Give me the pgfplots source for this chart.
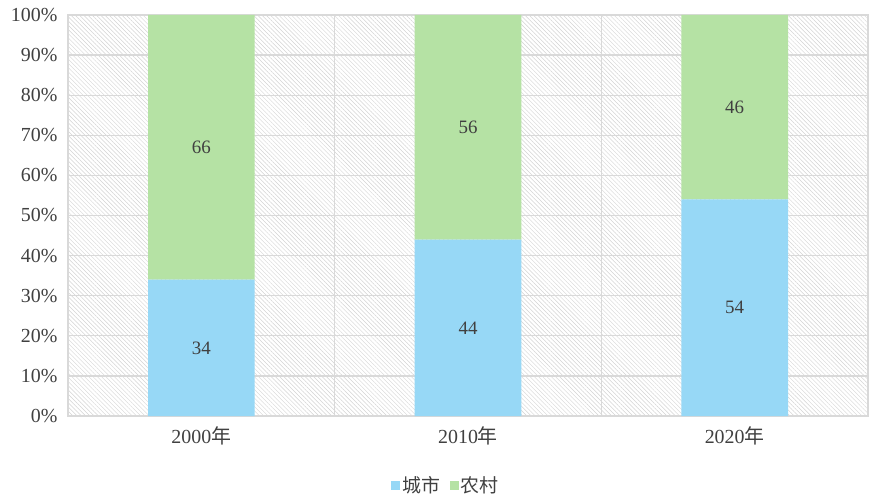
\documentclass[border=0pt]{standalone}
\usepackage{pgfplots}
\pgfplotsset{compat=1.18}
\usetikzlibrary{patterns.meta}
\usepackage{fontspec}
\setmainfont{Liberation Serif}
\newfontfamily\cjk{Noto Sans CJK SC}
\definecolor{cityblue}{RGB}{151,216,246}
\definecolor{ruralgreen}{RGB}{181,226,164}
\definecolor{gridgray}{RGB}{217,217,217}
\definecolor{hatchgray}{RGB}{212,212,212}
\definecolor{txt}{RGB}{64,64,64}
\begin{document}
\begin{tikzpicture}
\begin{axis}[
  at={(0,0)}, anchor=south west,
  scale only axis, width=800bp, height=401bp,
  xmin=-0.5, xmax=2.5, ymin=0, ymax=100,
  ybar stacked, bar width=0.4,
  axis background/.style={preaction={fill=white}, pattern={Lines[angle=-45,distance=3bp,line width=0.45bp]}, pattern color=hatchgray},
  xtick={0,1,2},
  xticklabels={2000{\cjk 年},2010{\cjk 年},2020{\cjk 年}},
  minor xtick={0.5,1.5},
  ytick={0,10,...,100},
  yticklabels={0\%,10\%,20\%,30\%,40\%,50\%,60\%,70\%,80\%,90\%,100\%},
  ymajorgrids, xminorgrids,
  major grid style={draw=gridgray, line width=1.3bp},
  minor grid style={draw=gridgray, line width=1.3bp},
  axis line style={draw=gridgray, line width=1.3bp},
  major tick length=0pt, minor tick length=0pt,
  tick style={draw=none},
  every tick label/.append style={font=\fontsize{20}{23}\selectfont, text=txt},
  yticklabel style={xshift=-7bp},
  xticklabel style={yshift=-7bp},
  legend style={at={(rel axis cs:0.5,0)}, anchor=center, xshift=-22bp, yshift=-69bp, draw=none, fill=none,
    font=\fontsize{19}{22}\selectfont\cjk, text=txt,
    /tikz/every even column/.append style={column sep=8bp}},
  legend columns=2,
  legend cell align=left,
]
\addplot[fill=cityblue, draw=none, legend image code/.code={\fill[cityblue] (0bp,-4.5bp) rectangle (9bp,4.5bp);}]
  coordinates {(0,34) (1,44) (2,54)};
\addlegendentry{城市}
\addplot[fill=ruralgreen, draw=none, legend image code/.code={\fill[ruralgreen] (0bp,-4.5bp) rectangle (9bp,4.5bp);}]
  coordinates {(0,66) (1,56) (2,46)};
\addlegendentry{农村}
\end{axis}
\begin{axis}[
  at={(0,0)}, anchor=south west,
  scale only axis, width=800bp, height=401bp,
  xmin=-0.5, xmax=2.5, ymin=0, ymax=100,
  hide axis, clip=false,
]
\addplot[draw=none, mark=none, nodes near coords, point meta=explicit symbolic,
  every node near coord/.append style={anchor=center, font=\fontsize{19}{22}\selectfont, text=txt}]
  coordinates {(0,17)[34] (1,22)[44] (2,27)[54] (0,67)[66] (1,72)[56] (2,77)[46]};
\end{axis}
\pgfresetboundingbox
\path (-68bp,-84bp) rectangle (812bp,416bp);
\end{tikzpicture}
\end{document}
